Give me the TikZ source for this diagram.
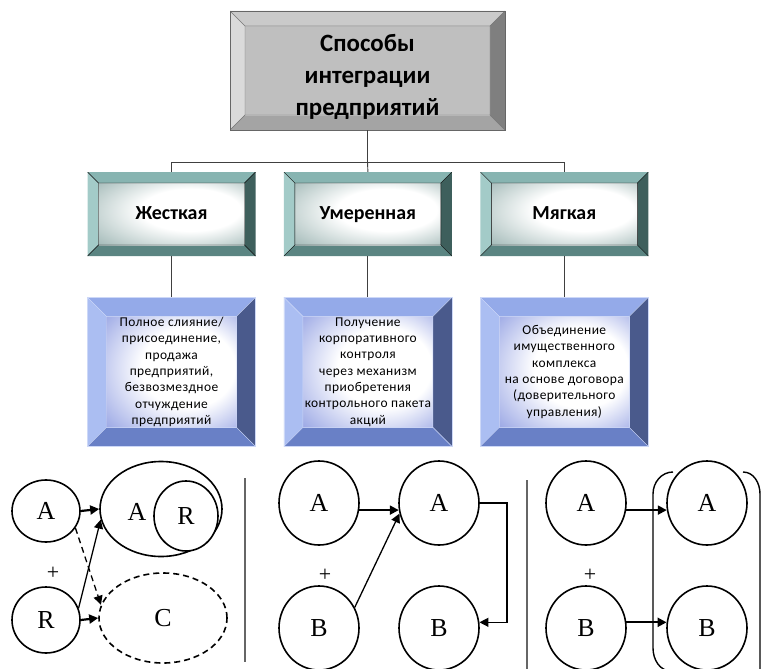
\documentclass[tikz,border=0pt]{standalone}
\usepackage{fontspec}
\setmainfont{Carlito}
\newfontfamily\letterfont{Liberation Serif}
\usetikzlibrary{shapes.geometric, arrows.meta, positioning, calc}

\definecolor{tface}{HTML}{BFBFBF}
\definecolor{ttop}{HTML}{CACACA}
\definecolor{tleft}{HTML}{DADADA}
\definecolor{tright}{HTML}{7F7F7F}
\definecolor{tbottom}{HTML}{A4A4A4}
\definecolor{kface}{HTML}{9AB3B1}
\definecolor{ktop}{HTML}{87B4B1}
\definecolor{kleft}{HTML}{A3CBC8}
\definecolor{kright}{HTML}{3E5F5C}
\definecolor{kbottom}{HTML}{5B8582}
\definecolor{dface}{HTML}{909EE2}
\definecolor{dtop}{HTML}{94AAE9}
\definecolor{dleft}{HTML}{ABBEF2}
\definecolor{dright}{HTML}{4A5A8C}
\definecolor{dbottom}{HTML}{6980C6}

\pgfdeclareradialshading[tface]{tshade}{\pgfpoint{0bp}{0bp}}{color(0bp)=(tface); color(50bp)=(tface)}
\pgfdeclareradialshading[kface]{kshade}{\pgfpoint{10bp}{5bp}}{color(0bp)=(white); color(17bp)=(white); color(40bp)=(kface); color(50bp)=(kface)}
\pgfdeclareradialshading[dface]{dshade}{\pgfpoint{10bp}{3bp}}{color(0bp)=(white); color(18bp)=(white); color(40bp)=(dface); color(50bp)=(dface)}

\tikzset{
    bvw/.store in=\bvw, bvw=12bp,
    bvtop/.store in=\bvtop,
    bvleft/.store in=\bvleft,
    bvright/.store in=\bvright,
    bvbottom/.store in=\bvbottom,
    bvshade/.store in=\bvshade,
    bvline/.store in=\bvline, bvline=draw=none,
    bevel/.style={
        path picture={
            \coordinate (bvsw) at (path picture bounding box.south west);
            \coordinate (bvse) at (path picture bounding box.south east);
            \coordinate (bvnw) at (path picture bounding box.north west);
            \coordinate (bvne) at (path picture bounding box.north east);
            \coordinate (bvisw) at ($(bvsw)+(\bvw,\bvw)$);
            \coordinate (bvise) at ($(bvse)+(-\bvw,\bvw)$);
            \coordinate (bvinw) at ($(bvnw)+(\bvw,-\bvw)$);
            \coordinate (bvine) at ($(bvne)+(-\bvw,-\bvw)$);
            \fill[\bvtop] (bvnw) -- (bvne) -- (bvine) -- (bvinw) -- cycle;
            \fill[\bvleft] (bvnw) -- (bvinw) -- (bvisw) -- (bvsw) -- cycle;
            \fill[\bvright] (bvne) -- (bvse) -- (bvise) -- (bvine) -- cycle;
            \fill[\bvbottom] (bvsw) -- (bvisw) -- (bvise) -- (bvse) -- cycle;
            \shade[shading=\bvshade] (bvisw) rectangle (bvine);
            \draw[\bvline] (bvisw) rectangle (bvine)
                (bvsw) -- (bvisw) (bvse) -- (bvise) (bvnw) -- (bvinw) (bvne) -- (bvine);
        }
    },
    titlebox/.style={
        rectangle,
        bevel, bvw=15bp,
        bvtop=ttop, bvleft=tleft, bvright=tright, bvbottom=tbottom,
        bvshade=tshade, bvline=black!55,
        draw=black!60,
        minimum width=275bp,
        minimum height=119bp,
        align=center,
        font=\fontsize{25}{32.5}\selectfont\bfseries
    },
    kindbox/.style={
        rectangle,
        bevel, bvw=11bp,
        bvtop=ktop, bvleft=kleft, bvright=kright, bvbottom=kbottom,
        bvshade=kshade,
        minimum width=168bp,
        minimum height=84bp,
        text height=14bp,
        text depth=4bp,
        align=center,
        font=\fontsize{20}{24}\selectfont\bfseries
    },
    descbox/.style={
        rectangle,
        bevel, bvw=19bp,
        bvtop=dtop, bvleft=dleft, bvright=dright, bvbottom=dbottom,
        bvshade=dshade,
        draw=dleft!60,
        minimum width=168bp,
        minimum height=149bp,
        align=center,
        font=\fontsize{13.5}{16.4}\selectfont\addfontfeature{LetterSpace=3}
    },
    ring/.style={
        ellipse,
        draw=black,
        line width=1.6bp,
        fill=white,
        inner sep=0pt,
        minimum width=80bp,
        minimum height=84bp,
        font=\letterfont\fontsize{26}{26}\selectfont
    },
    plus/.style={
        font=\letterfont\fontsize{22}{22}\selectfont
    },
    link/.style={
        draw=black!75,
        line width=0.9bp
    },
    divider/.style={
        draw=black!60,
        line width=2bp
    },
    merge/.style={
        -{Triangle[length=9bp,width=9bp]},
        line width=2.2bp
    },
    thinmerge/.style={
        -{Triangle[length=9bp,width=9bp]},
        line width=1.3bp
    },
    dashmerge/.style={
        -{Triangle[length=9bp,width=9bp]},
        line width=1.3bp,
        dash pattern=on 6bp off 4bp
    }
}

\begin{document}
\begin{tikzpicture}[x=1bp, y=-1bp]
    \useasboundingbox (0,0) rectangle (762,669);

    % Title
    \node[titlebox] (title) at (367.5,70.5) {\rule{0pt}{30bp}Способы\\интеграции\\предприятий};

    % Kinds
    \node[kindbox] (hard) at (171.5,214) {Жесткая};
    \node[kindbox, right=28bp of hard] (mid) {Умеренная};
    \node[kindbox, right=28bp of mid] (soft) {Мягкая};

    % Descriptions
    \node[descbox, below=41bp of hard] (dhard) {Полное слияние/\\присоединение,\\продажа\\предприятий,\\безвозмездное\\отчуждение\\предприятий};
    \node[descbox, below=41bp of mid] (dmid) {Получение\\корпоративного\\контроля\\через механизм\\приобретения\\контрольного пакета\\акций};
    \node[descbox, below=41bp of soft] (dsoft) {Объединение\\имущественного\\комплекса\\на основе договора\\(доверительного\\управления)};

    % Tree links
    \coordinate (bus) at (367.5,162);
    \draw[link] (title.south) -- (bus);
    \draw[link] (bus) -| (hard.north);
    \draw[link] (bus) -| (soft.north);
    \draw[link] (bus) -- (mid.north);
    \draw[link] (hard) -- (dhard);
    \draw[link] (mid) -- (dmid);
    \draw[link] (soft) -- (dsoft);

    % Hard: merge
    \node[ring, minimum width=68bp, minimum height=62bp] (la) at (46,511) {A};
    \node[ring, minimum width=68bp, minimum height=66bp] (lb) at (46,620) {R};
    \node[plus] (lplus) at (53,573) {+};
    \node[ring, minimum width=122bp, minimum height=95bp] (lab) at (161,509) {};
    \node[ring, minimum width=64bp, minimum height=70bp] (lbin) at (186,516) {R};
    \node[font=\letterfont\fontsize{26}{26}\selectfont] (lain) at (137,512) {A};
    \node[ring, dash pattern=on 6bp off 4bp, minimum width=128bp, minimum height=90bp] (lc) at (163,618) {C};
    \draw[merge] (la.east) -- (lab.west);
    \draw[thinmerge] (lb.20) -- (lab.190);
    \draw[dashmerge] (la.-30) -- (lc.168);
    \draw[merge] (lb.east) -- (lc.west);

    \coordinate (sep1a) at (245,478);
    \coordinate (sep1b) at (245,662);
    \draw[divider] (sep1a) -- (sep1b);

    % Moderate: control
    \node[ring] (ma) at (319,503) {A};
    \node[ring] (mb) at (319,628) {B};
    \node[plus] (mplus) at (325,575) {+};
    \node[ring] (ma2) at (439,503) {A};
    \node[ring] (mb2) at (439,628) {B};
    \draw[merge] (ma.-10) -- (ma2.190);
    \draw[thinmerge] (mb.30) -- (ma2.195);
    \coordinate (mturn) at (507,503);
    \draw[thinmerge] (ma2.east) -- (mturn) |- (mb2.8);

    \coordinate (sep2a) at (527,480);
    \coordinate (sep2b) at (527,669);
    \draw[divider] (sep2a) -- (sep2b);

    % Soft: trust
    \draw[line width=1.4bp] (673,472) to[out=180,in=90] (653,494) -- (653,648) to[out=-90,in=180] (671,671);
    \draw[line width=1.4bp] (743,472) to[out=0,in=90] (760,494) -- (760,675);
    \node[ring] (ra) at (586,503) {A};
    \node[ring] (rb) at (586,628) {B};
    \node[plus] (rplus) at (590,575) {+};
    \node[ring] (ra2) at (707,503) {A};
    \node[ring] (rb2) at (707,628) {B};
    \draw[merge] (ra.-10) -- (ra2.190);
    \draw[merge] (rb.8) -- (rb2.172);

\end{tikzpicture}
\end{document}
